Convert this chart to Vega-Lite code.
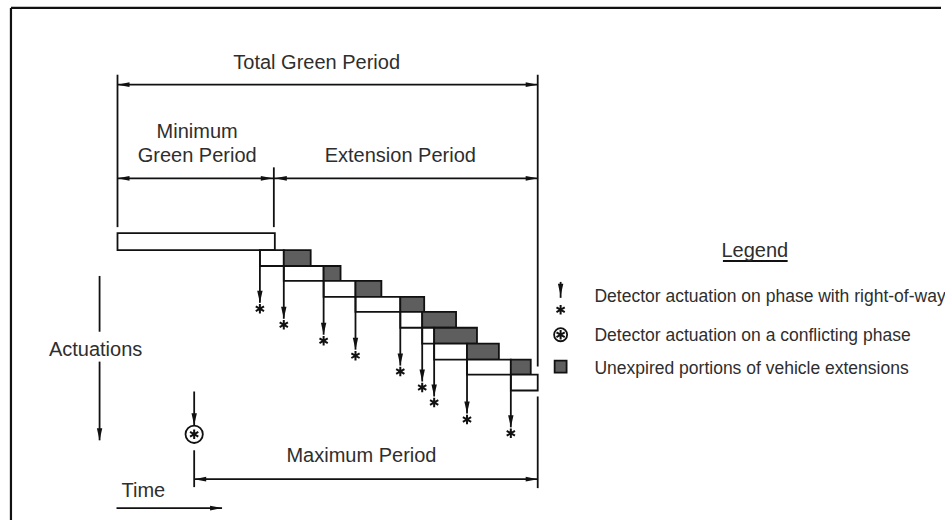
{
  "$schema": "https://vega.github.io/schema/vega-lite/v6.json",
  "width": 945,
  "height": 522,
  "autosize": {"type": "fit", "contains": "padding"},
  "padding": 0,
  "background": "#ffffff",
  "config": {"view": {"stroke": null}},
  "datasets": {
    "frame": [
      {"x": 11, "y": 8, "x2": 945, "y2": 8},
      {"x": 11, "y": 8, "x2": 11, "y2": 522}
    ],
    "boxes": [
      {"x": 118, "y": 234, "x2": 276, "y2": 251, "kind": "open"},
      {"x": 261, "y": 251, "x2": 285, "y2": 267, "kind": "open"},
      {"x": 285, "y": 251, "x2": 312, "y2": 267, "kind": "unexpired"},
      {"x": 285, "y": 267, "x2": 325, "y2": 282, "kind": "open"},
      {"x": 325, "y": 267, "x2": 342, "y2": 282, "kind": "unexpired"},
      {"x": 325, "y": 282, "x2": 357, "y2": 298, "kind": "open"},
      {"x": 357, "y": 282, "x2": 383, "y2": 298, "kind": "unexpired"},
      {"x": 357, "y": 298, "x2": 402, "y2": 313, "kind": "open"},
      {"x": 402, "y": 298, "x2": 426, "y2": 313, "kind": "unexpired"},
      {"x": 402, "y": 313, "x2": 424, "y2": 329, "kind": "open"},
      {"x": 424, "y": 313, "x2": 458, "y2": 329, "kind": "unexpired"},
      {"x": 424, "y": 329, "x2": 436, "y2": 345, "kind": "open"},
      {"x": 436, "y": 329, "x2": 479, "y2": 345, "kind": "unexpired"},
      {"x": 436, "y": 345, "x2": 469, "y2": 361, "kind": "open"},
      {"x": 469, "y": 345, "x2": 501, "y2": 361, "kind": "unexpired"},
      {"x": 469, "y": 361, "x2": 513, "y2": 376, "kind": "open"},
      {"x": 513, "y": 361, "x2": 533, "y2": 376, "kind": "unexpired"},
      {"x": 513, "y": 376, "x2": 540, "y2": 392, "kind": "open"},
      {"x": 557, "y": 362, "x2": 569, "y2": 374, "kind": "unexpired"}
    ],
    "lines": [
      {"x": 118, "y": 85, "x2": 540, "y2": 85},
      {"x": 118, "y": 75, "x2": 118, "y2": 228},
      {"x": 540, "y": 75, "x2": 540, "y2": 368},
      {"x": 540, "y": 398, "x2": 540, "y2": 490},
      {"x": 118, "y": 179, "x2": 275, "y2": 179},
      {"x": 275, "y": 168, "x2": 275, "y2": 228},
      {"x": 275, "y": 179, "x2": 540, "y2": 179},
      {"x": 195, "y": 481, "x2": 540, "y2": 481},
      {"x": 195, "y": 452, "x2": 195, "y2": 489},
      {"x": 195, "y": 393, "x2": 195, "y2": 427},
      {"x": 100, "y": 277, "x2": 100, "y2": 333},
      {"x": 100, "y": 363, "x2": 100, "y2": 442},
      {"x": 117, "y": 510, "x2": 223, "y2": 510},
      {"x": 261, "y": 251, "x2": 261, "y2": 304},
      {"x": 285, "y": 267, "x2": 285, "y2": 320},
      {"x": 325, "y": 282, "x2": 325, "y2": 336},
      {"x": 357, "y": 298, "x2": 357, "y2": 351},
      {"x": 402, "y": 313, "x2": 402, "y2": 367},
      {"x": 424, "y": 329, "x2": 424, "y2": 383},
      {"x": 436, "y": 345, "x2": 436, "y2": 398},
      {"x": 469, "y": 361, "x2": 469, "y2": 415},
      {"x": 513, "y": 376, "x2": 513, "y2": 429},
      {"x": 726, "y": 262, "x2": 791, "y2": 262},
      {"x": 563, "y": 283, "x2": 563, "y2": 299}
    ],
    "heads": [
      {"x": 118, "y": 85, "dir": "left"},
      {"x": 540, "y": 85, "dir": "right"},
      {"x": 118, "y": 179, "dir": "left"},
      {"x": 274, "y": 179, "dir": "right"},
      {"x": 276, "y": 179, "dir": "left"},
      {"x": 540, "y": 179, "dir": "right"},
      {"x": 195, "y": 481, "dir": "left"},
      {"x": 540, "y": 481, "dir": "right"},
      {"x": 223, "y": 510, "dir": "right"},
      {"x": 100, "y": 442, "dir": "down"},
      {"x": 195, "y": 427, "dir": "down"},
      {"x": 261, "y": 304, "dir": "down"},
      {"x": 285, "y": 320, "dir": "down"},
      {"x": 325, "y": 336, "dir": "down"},
      {"x": 357, "y": 351, "dir": "down"},
      {"x": 402, "y": 367, "dir": "down"},
      {"x": 424, "y": 383, "dir": "down"},
      {"x": 436, "y": 398, "dir": "down"},
      {"x": 469, "y": 415, "dir": "down"},
      {"x": 513, "y": 429, "dir": "down"},
      {"x": 563, "y": 297, "dir": "down"}
    ],
    "rings": [
      {"x": 195, "y": 436, "ring": "diagram"},
      {"x": 563, "y": 336, "ring": "legend"}
    ],
    "stars": [
      {"x": 261, "y": 310},
      {"x": 285, "y": 326},
      {"x": 325, "y": 342},
      {"x": 357, "y": 357},
      {"x": 402, "y": 373},
      {"x": 424, "y": 389},
      {"x": 436, "y": 404},
      {"x": 469, "y": 421},
      {"x": 513, "y": 435},
      {"x": 563, "y": 311},
      {"x": 195, "y": 436},
      {"x": 563, "y": 336}
    ],
    "labels": [
      {"x": 318, "y": 63, "text": "Total Green Period"},
      {"x": 198, "y": 133, "text": "Minimum"},
      {"x": 198, "y": 157, "text": "Green Period"},
      {"x": 402, "y": 157, "text": "Extension Period"},
      {"x": 96, "y": 351, "text": "Actuations"},
      {"x": 363, "y": 458, "text": "Maximum Period"},
      {"x": 144, "y": 493, "text": "Time"},
      {"x": 758, "y": 252, "text": "Legend"}
    ],
    "legendItems": [
      {"x": 597, "y": 298, "text": "Detector actuation on phase with right-of-way"},
      {"x": 597, "y": 337, "text": "Detector actuation on a conflicting phase"},
      {"x": 597, "y": 370, "text": "Unexpired portions of vehicle extensions"}
    ]
  },
  "layer": [
    {
      "data": {"name": "boxes"},
      "mark": {"type": "rect", "stroke": "#111111", "strokeWidth": 1.8, "opacity": 1},
      "encoding": {
        "x": {"field": "x", "type": "quantitative", "axis": null, "scale": {"domain": [0, 945], "nice": false, "zero": false}},
        "x2": {"field": "x2"},
        "y": {"field": "y", "type": "quantitative", "axis": null, "scale": {"domain": [0, 522], "nice": false, "zero": false, "reverse": true}},
        "y2": {"field": "y2"},
        "fill": {"field": "kind", "type": "nominal", "legend": null, "scale": {"domain": ["open", "unexpired"], "range": ["#ffffff", "#5e5e5e"]}}
      }
    },
    {
      "data": {"name": "frame"},
      "mark": {"type": "rule", "color": "#111111", "strokeWidth": 2.2},
      "encoding": {
        "x": {"field": "x", "type": "quantitative", "axis": null, "scale": {"domain": [0, 945], "nice": false, "zero": false}},
        "x2": {"field": "x2"},
        "y": {"field": "y", "type": "quantitative", "axis": null, "scale": {"domain": [0, 522], "nice": false, "zero": false, "reverse": true}},
        "y2": {"field": "y2"}
      }
    },
    {
      "data": {"name": "lines"},
      "mark": {"type": "rule", "color": "#111111", "strokeWidth": 1.8},
      "encoding": {
        "x": {"field": "x", "type": "quantitative", "axis": null, "scale": {"domain": [0, 945], "nice": false, "zero": false}},
        "x2": {"field": "x2"},
        "y": {"field": "y", "type": "quantitative", "axis": null, "scale": {"domain": [0, 522], "nice": false, "zero": false, "reverse": true}},
        "y2": {"field": "y2"}
      }
    },
    {
      "data": {"name": "rings"},
      "mark": {"type": "point", "shape": "circle", "filled": false, "fill": "#ffffff", "fillOpacity": 1, "stroke": "#111111", "strokeWidth": 1.8, "opacity": 1},
      "encoding": {
        "x": {"field": "x", "type": "quantitative", "axis": null, "scale": {"domain": [0, 945], "nice": false, "zero": false}},
        "y": {"field": "y", "type": "quantitative", "axis": null, "scale": {"domain": [0, 522], "nice": false, "zero": false, "reverse": true}},
        "size": {"field": "ring", "type": "nominal", "legend": null, "scale": {"domain": ["diagram", "legend"], "range": [300, 170]}}
      }
    },
    {
      "data": {"name": "heads"},
      "mark": {"type": "point", "filled": true, "color": "#111111", "size": 144, "opacity": 1},
      "encoding": {
        "x": {"field": "x", "type": "quantitative", "axis": null, "scale": {"domain": [0, 945], "nice": false, "zero": false}},
        "y": {"field": "y", "type": "quantitative", "axis": null, "scale": {"domain": [0, 522], "nice": false, "zero": false, "reverse": true}},
        "shape": {"field": "dir", "type": "nominal", "legend": null, "scale": {"domain": ["down", "left", "right"], "range": ["M-0.45,-2L0.45,-2L0,0Z", "M2,-0.4L2,0.4L0,0Z", "M-2,-0.4L-2,0.4L0,0Z"]}}
      }
    },
    {
      "data": {"name": "stars"},
      "mark": {"type": "point", "filled": false, "shape": "M0,-1L0,1M-0.87,-0.5L0.87,0.5M-0.87,0.5L0.87,-0.5", "stroke": "#111111", "strokeWidth": 2, "size": 90, "opacity": 1},
      "encoding": {
        "x": {"field": "x", "type": "quantitative", "axis": null, "scale": {"domain": [0, 945], "nice": false, "zero": false}},
        "y": {"field": "y", "type": "quantitative", "axis": null, "scale": {"domain": [0, 522], "nice": false, "zero": false, "reverse": true}}
      }
    },
    {
      "data": {"name": "labels"},
      "mark": {"type": "text", "font": "Liberation Sans", "fontSize": 20, "color": "#2e2e2e", "align": "center", "baseline": "middle"},
      "encoding": {
        "x": {"field": "x", "type": "quantitative", "axis": null, "scale": {"domain": [0, 945], "nice": false, "zero": false}},
        "y": {"field": "y", "type": "quantitative", "axis": null, "scale": {"domain": [0, 522], "nice": false, "zero": false, "reverse": true}},
        "text": {"field": "text", "type": "nominal"}
      }
    },
    {
      "data": {"name": "legendItems"},
      "mark": {"type": "text", "font": "Liberation Sans", "fontSize": 17.5, "color": "#2e2e2e", "align": "left", "baseline": "middle"},
      "encoding": {
        "x": {"field": "x", "type": "quantitative", "axis": null, "scale": {"domain": [0, 945], "nice": false, "zero": false}},
        "y": {"field": "y", "type": "quantitative", "axis": null, "scale": {"domain": [0, 522], "nice": false, "zero": false, "reverse": true}},
        "text": {"field": "text", "type": "nominal"}
      }
    }
  ]
}
